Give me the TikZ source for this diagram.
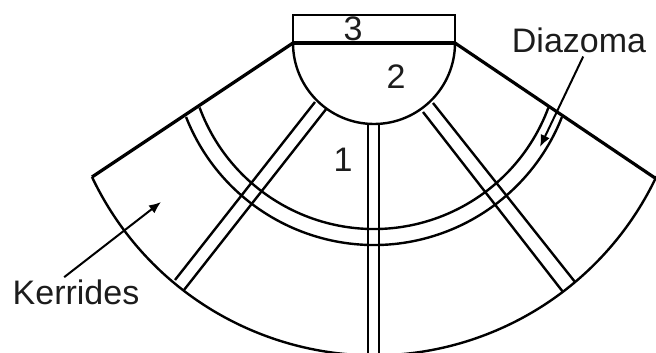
\documentclass[tikz,border=0pt]{standalone}
\usepackage{fontspec}
\setmainfont{Liberation Sans}
\usepackage{tikz}
\usetikzlibrary{arrows.meta}
\definecolor{inkgray}{HTML}{1C1C1C}
\tikzset{
  wall/.style={line width=3.2pt,color=black},
  thin wall/.style={line width=2.4pt,color=black},
  pointer/.style={line width=2pt,color=black,-{Latex[length=12pt,width=10pt]}},
  label/.style={font=\fontsize{34}{34}\selectfont,text=inkgray,inner sep=3pt}
}

\begin{document}
\begin{tikzpicture}[x=1pt,y=1pt]
\useasboundingbox (0,0) rectangle (656,353);
\clip (0,0) rectangle (656,353);
\coordinate (center) at (374,310);
\draw[wall] (293,310) -- (92,176);
\draw[wall] (455,310) -- (655,175);
\draw[thin wall] (92,176) arc (205.4:334.6:312.3pt) -- (655,175);
\draw[thin wall] (center) ++(200.3:186pt) arc (200.3:339.7:186pt);
\draw[thin wall] (center) ++(201.5:202pt) arc (201.5:338.5:202pt);
\draw[thin wall] (293,310) arc (180:360:81pt);
\draw[line width=2.8pt] (293,310) rectangle (455,338);
\draw[line width=4.4pt] (293,310) -- (455,310);
\draw[thin wall] (315,251) -- (175,73);
\draw[thin wall] (327,245) -- (184,63);
\draw[thin wall] (368,229) -- (368,0);
\draw[thin wall] (379,229) -- (379,0);
\draw[thin wall] (423,241) -- (563,61);
\draw[thin wall] (433,250) -- (575,71);
\node[label] (one) at (343,193) {1};
\node[label] (two) at (396,276) {2};
\node[label] (three) at (353,324) {3};
\node[label,anchor=base] (diazoma) at (579,300) {Diazoma};
\node[label,anchor=base] (kerrides) at (76,48) {Kerrides};
\coordinate (diazoma tip) at (540,206);
\coordinate (kerrides tip) at (161,151);
\draw[pointer] (diazoma.-75) -- (diazoma tip);
\draw[pointer] (kerrides.127) -- (kerrides tip);
\end{tikzpicture}
\end{document}
